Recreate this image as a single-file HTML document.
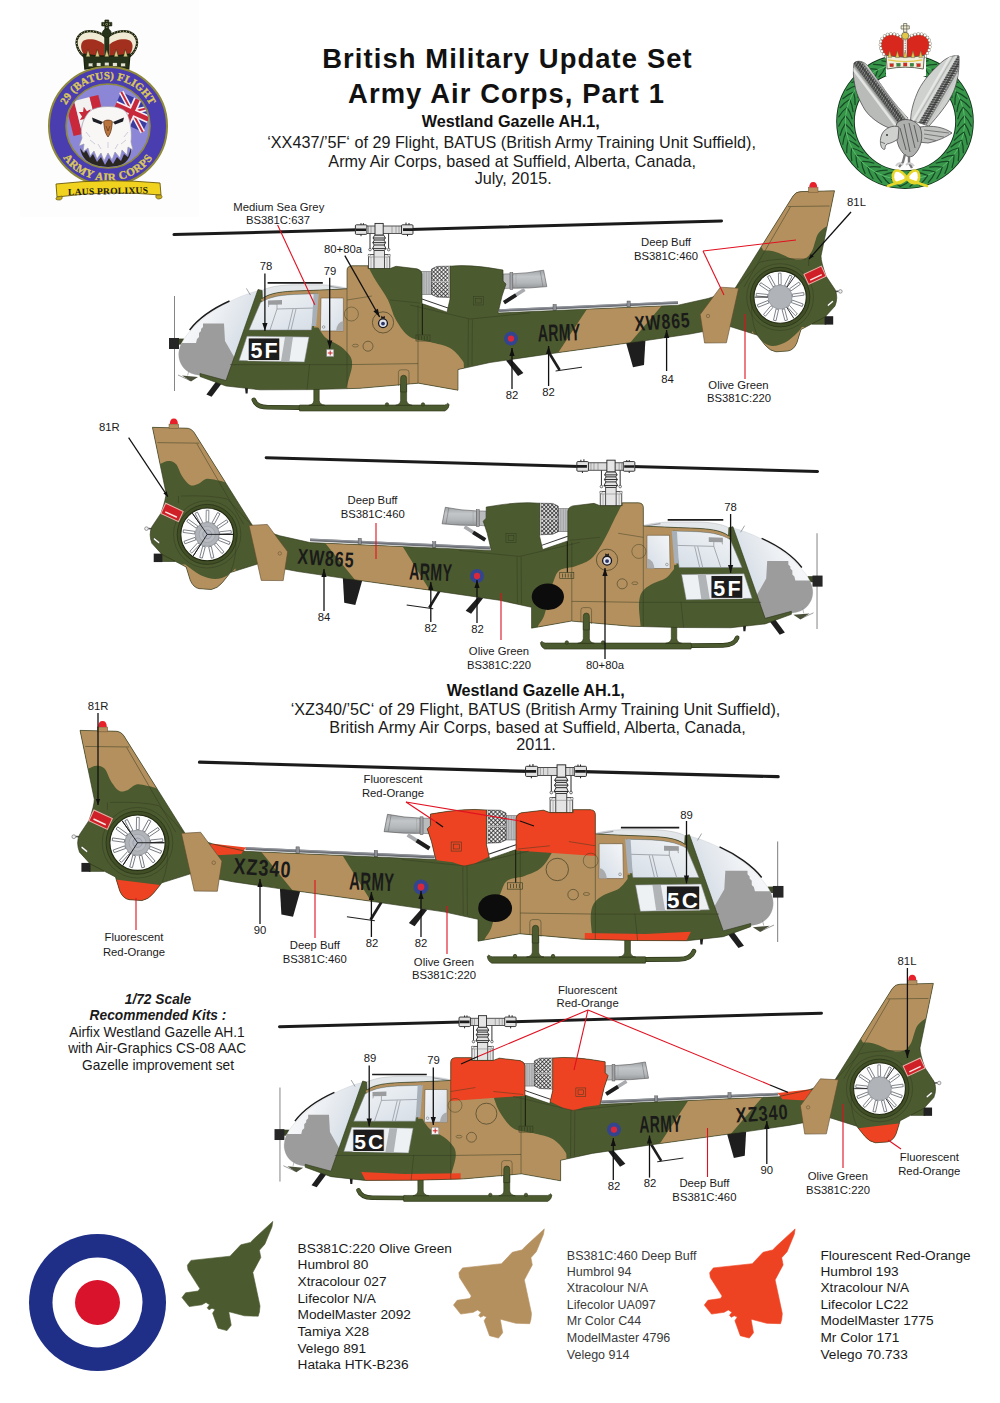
<!DOCTYPE html>
<html><head><meta charset="utf-8"><title>British Military Update Set</title>
<style>
html,body{margin:0;padding:0;background:#fff;}
body{width:1000px;height:1403px;overflow:hidden;font-family:"Liberation Sans",sans-serif;}
svg{display:block;}
text{font-family:"Liberation Sans",sans-serif;}
</style></head><body>
<svg width="1000" height="1403" viewBox="0 0 1000 1403">
<rect width="1000" height="1403" fill="#fff"/>
<defs>
<path id="bodyShape" d="M258,289.5 L262,290.4 L262.4,298.4 C270,292.8 282,291.4 300,290.8 C318,290.2 335,289.4 347,288.8 L347,270.5 Q347,266 352,265.8 L368,265.8 L368,268.6 L390,268.6 L396,266.3 L417,268.8 Q421.5,270 422,274 L422,303.6 L447,312.2 L450,299 L450,266.2 Q470,264 503,270 L503,281 L506,284 L502,296 L498,313 L678,305.2 L708,298.5 L734,290 L793,196 Q796,191.6 801,191.6 L834.5,190.8 L821,256 Q821,262 826,276 L835,289.5 Q838.5,297 835,306 L825,317 L801,329.5 L797,342.5 Q794,350 788,351 L776,351.8 Q770,351 765,345 L757,335 L730,326.5 L690,334 L646,340.5 L559,352.5 L490,362.5 L458,369.5 L458,390.2 L418.5,383.2 L360,388.3 L312,389.6 L260,389.8 L226,386 L200,376.5 L200,373.5 L226,380.5 Z"/>
<clipPath id="clipH1"><use href="#bodyShape"/></clipPath>
<clipPath id="clipH2"><use href="#bodyShape" transform="matrix(-1.007,0,0,1.007,992.75,235.2)"/></clipPath>
<clipPath id="clipH3"><use href="#bodyShape" transform="matrix(-1.057,0,0,1.057,962.1,528.7)"/></clipPath>
<clipPath id="clipH4"><use href="#bodyShape" transform="matrix(0.99,0,0,0.99,107.2,794.5)"/></clipPath>
<pattern id="mesh" width="2.8" height="2.8" patternUnits="userSpaceOnUse" patternTransform="rotate(45 0 0)"><rect width="2.8" height="2.8" fill="#ececec"/><path d="M0,0 H2.8 M0,0 V2.8" stroke="#222" stroke-width="1.4"/></pattern>
<linearGradient id="bubG" x1="0" y1="0" x2="1" y2="0.55"><stop offset="0" stop-color="#ffffff"/><stop offset="0.4" stop-color="#f1f3f6"/><stop offset="0.75" stop-color="#dde3ea"/><stop offset="1" stop-color="#cfd7e0"/></linearGradient>
<linearGradient id="exG" x1="0" y1="0" x2="0" y2="1"><stop offset="0" stop-color="#9fa2a5"/><stop offset="0.35" stop-color="#c3c6c9"/><stop offset="0.7" stop-color="#b4b7ba"/><stop offset="1" stop-color="#94979a"/></linearGradient>
<linearGradient id="winG" x1="0" y1="0" x2="1" y2="1"><stop offset="0" stop-color="#f4f6f8"/><stop offset="1" stop-color="#d5dde6"/></linearGradient>
<g id="heliUnder">
<line x1="174.5" y1="296" x2="174.5" y2="391" stroke="#858585" stroke-width="1"/>
<rect x="178" y="338.6" width="6" height="6" fill="#3c4526"/><rect x="169" y="338" width="10" height="11" fill="#262626"/>
<path d="M174,234.6 L358,229.8 M410,229.6 L721.5,220.9" stroke="#1b1b1b" stroke-width="3" stroke-linecap="round" fill="none"/>
<rect x="356" y="226" width="56" height="7.4" fill="#dcdcdc" stroke="#2e2e2e" stroke-width="0.8"/>
<rect x="355.4" y="224.8" width="11.5" height="9.6" rx="1" fill="#e2e2e2" stroke="#262626" stroke-width="0.9"/>
<rect x="401.5" y="224.8" width="11.5" height="9.6" rx="1" fill="#e2e2e2" stroke="#262626" stroke-width="0.9"/>
<path d="M356,229.7 H366 M403,229.6 H413" stroke="#1b1b1b" stroke-width="2.6"/>
<path d="M368.5,226 V233.4 M371,226 V233.4 M392,226 V233.4 M396,226 V233.4 M399,226 V233.4" stroke="#666" stroke-width="0.5"/>
<rect x="375" y="223.4" width="8.2" height="11.8" fill="#e6e6e6" stroke="#262626" stroke-width="0.9"/>
<path d="M361,223.2 v1.6 M363.4,223.2 v1.6 M361,234.4 v1.8 M406,222.6 v2.2 M409,223 v1.8 M407.5,234.4 v1.8" stroke="#222" stroke-width="1"/>
<path d="M370,233.4 V249.5 M388.6,233.4 V249.5" stroke="#333" stroke-width="1"/>
<circle cx="370" cy="249.6" r="1.3" fill="#eee" stroke="#2a2a2a" stroke-width="0.6"/><circle cx="388.6" cy="249.6" r="1.3" fill="#eee" stroke="#2a2a2a" stroke-width="0.6"/>
<path d="M374.6,235.2 H383.8 L385.4,238 L384,240 L385.6,242.6 L384.2,245 L386,248.6 L384,250.6 H374.4 L372.6,248.6 L374.2,245 L372.8,242.6 L374.4,240 L373,238 Z" fill="#e3e3e3" stroke="#262626" stroke-width="0.9"/>
<path d="M373,238 H385.4 M374.4,240 H384 M372.8,242.6 H385.6 M374.2,245 H384.2 M372.6,248.6 H386" stroke="#1e1e1e" stroke-width="0.9"/>
<rect x="368.4" y="254.4" width="21.4" height="14.4" fill="#e9e9e9" stroke="#2e2e2e" stroke-width="0.8"/>
<rect x="374" y="250.6" width="10.4" height="18.2" fill="#e4e4e4" stroke="#2e2e2e" stroke-width="0.8"/>
<path d="M368.4,257 H389.8 M371,257 V268.6 M387,257 V268.6" stroke="#777" stroke-width="0.5"/>
<circle cx="369.2" cy="255.4" r="1.2" fill="#eee" stroke="#555" stroke-width="0.4"/><circle cx="389" cy="255.4" r="1.2" fill="#eee" stroke="#555" stroke-width="0.4"/>
<path d="M503,274 L510.4,273.8 L510.4,288.2 L503,288.6 Z" fill="#b9bbbd" stroke="#555" stroke-width="0.5"/>
<path d="M512.6,273.8 Q528,273.4 543.6,270.2 L546.8,286.6 Q528,288.6 512.6,288.2 Z" fill="url(#exG)" stroke="#555" stroke-width="0.6"/>
<path d="M540.2,270.8 L543,287" stroke="#777" stroke-width="0.6"/><path d="M516,273.8 V288.2" stroke="#999" stroke-width="0.5"/>
<rect x="510" y="272.6" width="2.8" height="16.8" fill="#a3a5a8" stroke="#555" stroke-width="0.5"/>
<path d="M524.6,289.6 L504,302.6" stroke="#a9abae" stroke-width="3.6"/><path d="M516,295 L504,302.6" stroke="#1e1e1e" stroke-width="3.8"/>
<rect x="421.5" y="271.5" width="10" height="23" fill="#bcbec0" stroke="#555" stroke-width="0.5"/>
<path d="M424,271.5 V294.5 M426.4,271.5 V294.5 M429,271.5 V294.5" stroke="#888" stroke-width="0.5"/>
<path d="M431.5,269 L437,266.4 L450.5,266.2 L450.5,297.5 L437,297 L431.5,294.4 Z" fill="url(#mesh)" stroke="#333" stroke-width="0.6"/>
<path d="M431.5,281.6 H450.5" stroke="#bbb" stroke-width="1.1"/><path d="M449.4,266.4 V297.4" stroke="#ccc" stroke-width="1.6"/>
<path d="M422,299 L448,308" stroke="#333" stroke-width="1"/>
<path d="M499,310.6 L678,302.6" stroke="#6e7278" stroke-width="2.8"/>
<path d="M499,309.8 L678,301.8" stroke="#9a9ea4" stroke-width="0.8"/>
<rect x="553" y="304.4" width="3.2" height="6" fill="#8d9096" stroke="#444" stroke-width="0.4"/><rect x="627" y="301" width="3.2" height="6" fill="#8d9096" stroke="#444" stroke-width="0.4"/>
<path id="bub" d="M259,290.5 C240,295 214,308 199,322 C189,331.5 180.6,341 179,351 C177.6,359 181,366.5 187,371 C192,374.5 198,375.4 203,375.6 L226,383 Z" fill="url(#bubG)" stroke="#c9cdd2" stroke-width="0.4"/>
<clipPath id="bubC"><path d="M259,290.5 C240,295 214,308 199,322 C189,331.5 180.6,341 179,351 C177.6,359 181,366.5 187,371 C192,374.5 198,375.4 203,375.6 L226,383 Z"/></clipPath>
<g clip-path="url(#bubC)"><path d="M170,343 L196,343 L197,339 L199,337 L199,333 L201,331 L201,329 L203,327 L203,323.5 L224,323.5 L225,341 L233,355 L236,360 L236,392 L170,392 Z" fill="#9c9c9c"/></g>
<path d="M229.5,301 C214,308 198,319 189.6,330" stroke="#1c1c1c" stroke-width="1.4" fill="none"/>
<path d="M246.4,288.4 L250.4,295" stroke="#8a8f94" stroke-width="0.8"/>
<path d="M262,290.4 C270,286.6 280,285.2 292,284.8 L322,284.8 C332,285.2 340,286.4 347,288.2 L347,289 C335,289.6 318,290.4 300,291 C282,291.6 270,293 262.4,298.6 Z" fill="#e4e7ea" stroke="#a4a8ac" stroke-width="0.4"/>
<path d="M330,286.4 L346,289" stroke="#9a9ea2" stroke-width="1.2"/>
<path d="M267.6,282.8 H322.8" stroke="#1c1c1c" stroke-width="1.7"/>
<path d="M253.8,399.8 Q256.4,407.3 268,407.3 L301,407.6" stroke="#2b3418" stroke-width="4.6" stroke-linecap="round" fill="none"/>
<path d="M253.8,399.8 Q256.4,407.3 268,407.3 L301,407.6" stroke="#4c5a2f" stroke-width="3.4" stroke-linecap="round" fill="none"/>
<path d="M299.6,405 L444.6,405 Q447,404.6 447.6,403.2 L449.2,404.6 Q449,409 445,411 L299.6,411 Q298.4,408 299.6,405 Z" fill="#4c5a2f" stroke="#2b3418" stroke-width="0.6"/>
<path d="M313.8,366 L319.2,366 L319.2,400.6 Q319.8,404.6 324.8,405.3 L308.8,405.3 Q313.40000000000003,404.6 313.8,400.6 Z" fill="#4c5a2f" stroke="#2b3418" stroke-width="0.6"/>
<path d="M400.6,378.4 Q400.6,375.2 403.6,375.2 Q406.6,375.2 406.6,378.4 L406.6,400.6 Q407.2,404.6 412.2,405.3 L395.6,405.3 Q400.2,404.6 400.6,400.6 Z" fill="#4c5a2f" stroke="#2b3418" stroke-width="0.6"/>
<circle cx="387" cy="404.4" r="1.7" fill="#4c5a2f" stroke="#2b3418" stroke-width="0.6"/><circle cx="423" cy="404.4" r="1.7" fill="#4c5a2f" stroke="#2b3418" stroke-width="0.6"/>
<polygon points="506,360.4 511,359 523.4,373 518,376" fill="#1e1e1e"/>
<path d="M548.6,352 L559.6,370" stroke="#1e1e1e" stroke-width="2.6"/><path d="M555.6,371 L582,367.2" stroke="#1e1e1e" stroke-width="1"/>
<polygon points="626,342.4 645.4,340.4 644,365 633,367.2" fill="#1e1e1e"/>
<polygon points="206.4,394.6 211.6,396.8 222.4,382.4 216.8,380.6" fill="#1e1e1e"/>
<polygon points="245,387.6 248,387.6 247.6,393.4 245.6,393.4" fill="#1e1e1e"/>
<path d="M178,375 L190,380.6" stroke="#5c5f5c" stroke-width="0.6"/><path d="M182,375.6 L198,377 L191,381.6 Z" fill="#4a4f3a"/><path d="M189,370 L187.6,375.6" stroke="#8a8d8a" stroke-width="0.6"/>
<rect x="812" y="316.4" width="14" height="7.8" fill="#4c5a2f" stroke="#2b3418" stroke-width="0.5"/>
<rect x="824.6" y="316.2" width="8.6" height="8.4" fill="#222"/>
<path d="M834,291.6 L838.6,291.2" stroke="#555" stroke-width="1.6"/><circle cx="840.4" cy="291.4" r="1.8" fill="#eee" stroke="#666" stroke-width="0.6"/>
<use href="#bodyShape" fill="#4c5a2f"/>
</g>
<g id="heliOver">
<use href="#bodyShape" fill="none" stroke="#2b3418" stroke-width="0.6"/>
<rect x="808.4" y="187.6" width="9.6" height="4.6" fill="#b5905f" stroke="#6a5232" stroke-width="0.5"/><path d="M809.2,187.6 Q809.2,182 813.2,182 Q817.2,182 817.2,187.6 Z" fill="#e8202a"/>
<circle cx="780.1" cy="297.1" r="33.4" fill="none" stroke="#333c20" stroke-width="0.5"/>
<circle cx="780.1" cy="297.1" r="29.8" fill="#414f27" stroke="#2b3418" stroke-width="0.8"/>
<circle cx="780.1" cy="297.1" r="26.2" fill="#fdfdfd" stroke="#20270f" stroke-width="1.1"/>
<rect x="778.8000000000001" y="273.1" width="2.6" height="11.6" fill="#fff" stroke="#6c7178" stroke-width="0.8" transform="rotate(-84.0 780.1 297.1)"/>
<rect x="778.8000000000001" y="273.1" width="2.6" height="11.6" fill="#fff" stroke="#6c7178" stroke-width="0.8" transform="rotate(-56.3 780.1 297.1)"/>
<rect x="778.8000000000001" y="273.1" width="2.6" height="11.6" fill="#fff" stroke="#6c7178" stroke-width="0.8" transform="rotate(-28.6 780.1 297.1)"/>
<rect x="778.8000000000001" y="273.1" width="2.6" height="11.6" fill="#fff" stroke="#6c7178" stroke-width="0.8" transform="rotate(-0.9 780.1 297.1)"/>
<rect x="778.8000000000001" y="273.1" width="2.6" height="11.6" fill="#fff" stroke="#6c7178" stroke-width="0.8" transform="rotate(26.8 780.1 297.1)"/>
<rect x="778.8000000000001" y="273.1" width="2.6" height="11.6" fill="#fff" stroke="#6c7178" stroke-width="0.8" transform="rotate(54.5 780.1 297.1)"/>
<rect x="778.8000000000001" y="273.1" width="2.6" height="11.6" fill="#fff" stroke="#6c7178" stroke-width="0.8" transform="rotate(82.2 780.1 297.1)"/>
<rect x="778.8000000000001" y="273.1" width="2.6" height="11.6" fill="#fff" stroke="#6c7178" stroke-width="0.8" transform="rotate(109.8 780.1 297.1)"/>
<rect x="778.8000000000001" y="273.1" width="2.6" height="11.6" fill="#fff" stroke="#6c7178" stroke-width="0.8" transform="rotate(137.5 780.1 297.1)"/>
<rect x="778.8000000000001" y="273.1" width="2.6" height="11.6" fill="#fff" stroke="#6c7178" stroke-width="0.8" transform="rotate(165.2 780.1 297.1)"/>
<rect x="778.8000000000001" y="273.1" width="2.6" height="11.6" fill="#fff" stroke="#6c7178" stroke-width="0.8" transform="rotate(192.9 780.1 297.1)"/>
<rect x="778.8000000000001" y="273.1" width="2.6" height="11.6" fill="#fff" stroke="#6c7178" stroke-width="0.8" transform="rotate(220.6 780.1 297.1)"/>
<rect x="778.8000000000001" y="273.1" width="2.6" height="11.6" fill="#fff" stroke="#6c7178" stroke-width="0.8" transform="rotate(248.3 780.1 297.1)"/>
<circle cx="780.1" cy="297.1" r="12" fill="#b0b3b8" stroke="#80858c" stroke-width="0.6"/>
<line x1="767.9" y1="297.1" x2="754.5" y2="297.1" stroke="#1a1a1a" stroke-width="0.9"/>
<line x1="787.1" y1="287.1" x2="794.8" y2="276.1" stroke="#1a1a1a" stroke-width="0.9"/>
<line x1="786.7" y1="307.3" x2="794.0" y2="318.6" stroke="#1a1a1a" stroke-width="0.9"/>
<g transform="translate(815,275.3) rotate(-25)"><rect x="-9.6" y="-5.6" width="19.2" height="11.2" fill="#cf2027" stroke="#e9b0a8" stroke-width="1"/><rect x="-6.4" y="1.6" width="12.8" height="1.4" fill="#f7e6e2"/></g><rect x="-3.8" y="-1" width="7.6" height="2" rx="1" fill="#fff" stroke="#2b3418" stroke-width="0.5" transform="translate(830.4,303.4) rotate(-40)"/>
<path d="M788,206.5 L829.6,206 M790.4,207 L744,287 M734,290 L760,262 Q776,258 806,259 M808.6,259 L808.6,266 M757,335 Q750,318 752,300" stroke="#333c20" stroke-width="0.5" fill="none"/>
<path id="stab" d="M720.4,287.2 L738.6,288.2 L726.4,342.8 L704.6,343 L700.2,314.4 Z" fill="#b5905f" stroke="#5c4a2c" stroke-width="0.6"/>
<circle cx="708" cy="316" r="1.7" fill="none" stroke="#5c4a2c" stroke-width="0.5"/>
<path d="M260.6,302.4 C270,296.4 282,294.8 300,294.2 L317,293.8 L311.4,330 L249,330 Z" fill="url(#winG)" stroke="#7d8288" stroke-width="0.5"/>
<path d="M270,330 L277,309 L315,308 M288,330 L293,309 M291,330 L296,309 M277,309 L277,304 L269,303.4 L268.4,307" stroke="#8a8f96" stroke-width="0.7" fill="none"/>
<path d="M268,300.4 L282,300 L282,304.6 L268,304.8 Z" fill="#9a9c9e"/>
<path d="M247,336.2 L309,337 L304.4,362 L239,360.6 Z" fill="#eef1f4" stroke="#7d8288" stroke-width="0.5"/>
<path d="M285,337 L293,337 L289.4,361.4 L281,361.2 Z" fill="#b1b4b7"/>
<rect x="248.2" y="338" width="31.6" height="22.6" fill="#1c1c1c" stroke="#f2f2f2" stroke-width="0.9"/>
<path d="M321,298 L343.4,298 L343.4,331 L320.4,331 Z" fill="url(#winG)" stroke="#6e5a3a" stroke-width="0.6"/>
<path d="M336,331 Q337,322 343.4,321 L343.4,331 Z" fill="#a9abad"/><circle cx="323.6" cy="327" r="1.3" fill="none" stroke="#666" stroke-width="0.5"/>
<path d="M313.6,294 L318.8,293.8 L316.2,326 L311.8,326 Z" fill="#a7b0b8"/>
<path d="M400.6,392 L400.6,378.4 Q400.6,375.2 403.6,375.2 Q406.6,375.2 406.6,378.4 L406.6,392 Z" fill="#4c5a2f" stroke="#2b3418" stroke-width="0.6"/>
<path d="M347,289 V388.6 M410,305 L470,319 L530,313 M468.4,319 L468,366 M472.4,319.4 L472,365 M347,364.6 L418,363.6 M418,305 V383 M230,364.6 H347 M309.6,364 L307,389.6 " stroke="#333c20" stroke-width="0.5" fill="none"/><path d="M422.4,304 V335" stroke="#1e2410" stroke-width="1.2"/>
<rect x="416" y="335" width="14" height="6" fill="none" stroke="#333c20" stroke-width="0.6"/><path d="M418.8,336 V340 M421.6,336 V340 M424.4,336 V340 M427.2,336 V340" stroke="#333c20" stroke-width="0.7"/>
<rect x="473.4" y="296.4" width="10" height="8.6" fill="none" stroke="#333c20" stroke-width="0.5"/><rect x="475.6" y="298.4" width="5.6" height="4.6" fill="none" stroke="#333c20" stroke-width="0.5"/>
<circle cx="351.4" cy="314" r="7" fill="none" stroke="#333c20" stroke-width="0.45"/><circle cx="383" cy="322.4" r="10.6" fill="none" stroke="#4f4a2c" stroke-width="0.8"/><circle cx="368" cy="346.2" r="5" fill="none" stroke="#4f4a2c" stroke-width="0.7"/><ellipse cx="355.4" cy="345.6" rx="3" ry="1.4" fill="none" stroke="#333c20" stroke-width="0.45"/>
<path d="M347,300 L372,296 M390,300 L420,303 M398.4,386 V372.4 Q398.4,369.8 401,369.8 H406.4 Q409,369.8 409,372.4 V384" stroke="#333c20" stroke-width="0.45" fill="none"/>
</g>
</defs>
<rect x="20" y="0" width="179" height="217" fill="#fdfdfd"/><path d="M86.8,58.2 C76.8,52.3 73.0,40.6 80.5,34.2 C86.8,28.8 99.3,30.8 106.8,37.6 C114.3,30.8 126.8,28.8 133.1,34.2 C140.6,40.6 136.8,52.3 126.8,58.2 Z" fill="#f0ead4" stroke="#1c2410" stroke-width="2.2"/><path d="M85.5,56.3 C79.9,50.4 79.9,43.5 83.7,40.6 C89.3,37.6 99.3,39.6 104.3,44.5 L104.3,56.3 Z" fill="#a3301f"/><path d="M128.1,56.3 C133.7,50.4 133.7,43.5 129.9,40.6 C124.3,37.6 114.3,39.6 109.3,44.5 L109.3,56.3 Z" fill="#a3301f"/><path d="M86.8,58.2 C76.8,52.3 73.0,40.6 80.5,34.2 C86.8,28.8 99.3,30.8 106.8,37.6 C114.3,30.8 126.8,28.8 133.1,34.2 C140.6,40.6 136.8,52.3 126.8,58.2 Z" fill="none" stroke="#d9d2a0" stroke-width="0.9" stroke-dasharray="1.1 1.9"/><rect x="104.6" y="34.7" width="4.4" height="20.6" fill="#27321a" stroke="#1c2410" stroke-width="0.5"/><circle cx="106.8" cy="33.2" r="4.4" fill="#27321a" stroke="#1c2410" stroke-width="0.7"/><path d="M104.9,29.3 V20.0 H108.7 V29.3 Z M101.8,22.4 H111.8 V25.9 H101.8 Z" fill="#27321a" stroke="#1c2410" stroke-width="0.7"/><path d="M106.8,21.0 V28.3 M103.0,24.2 H110.5" stroke="#d9d2a0" stroke-width="0.8" stroke-dasharray="0.8 1.2"/><path d="M83.7,54.3 Q106.8,58.2 129.9,54.3 L128.7,69.0 Q106.8,65.1 84.9,69.0 Z" fill="#27321a" stroke="#1c2410" stroke-width="1.4"/><path d="M85.9,56.8 L88.0,49.4 L90.2,56.8 Z" fill="#d6cc86" stroke="#1c2410" stroke-width="0.4"/><path d="M95.2,56.8 L97.4,49.4 L99.6,56.8 Z" fill="#d6cc86" stroke="#1c2410" stroke-width="0.4"/><path d="M104.6,56.8 L106.8,49.4 L109.0,56.8 Z" fill="#d6cc86" stroke="#1c2410" stroke-width="0.4"/><path d="M114.0,56.8 L116.2,49.4 L118.4,56.8 Z" fill="#d6cc86" stroke="#1c2410" stroke-width="0.4"/><path d="M123.4,56.8 L125.5,49.4 L127.7,56.8 Z" fill="#d6cc86" stroke="#1c2410" stroke-width="0.4"/><rect x="88.4" y="63.1" width="4.4" height="3.4" fill="#e4e2d2" stroke="#1c2410" stroke-width="0.3"/><rect x="96.5" y="62.8" width="4.4" height="3.4" fill="#e4e2d2" stroke="#1c2410" stroke-width="0.3"/><rect x="104.6" y="62.4" width="4.4" height="3.4" fill="#e4e2d2" stroke="#1c2410" stroke-width="0.3"/><rect x="112.7" y="62.8" width="4.4" height="3.4" fill="#e4e2d2" stroke="#1c2410" stroke-width="0.3"/><rect x="120.9" y="63.1" width="4.4" height="3.4" fill="#e4e2d2" stroke="#1c2410" stroke-width="0.3"/><circle cx="108" cy="126" r="59" fill="#4a3db0" stroke="#8f8a3a" stroke-width="2"/><circle cx="108" cy="126" r="42" fill="#8b87d6" stroke="#8f8a3a" stroke-width="1.6"/><clipPath id="lbin"><circle cx="108" cy="126" r="41"/></clipPath><g clip-path="url(#lbin)"><g transform="translate(84,116) rotate(-14)"><rect x="-15" y="-17" width="9" height="34" fill="#c8283a"/><rect x="-6" y="-17" width="16" height="34" fill="#f4f1f1"/><rect x="10" y="-17" width="9" height="34" fill="#c8283a"/><path d="M2,-9 L4,-4 L8,-5 L6,0 L9,3 L3,3 L2,8 L1,3 L-5,3 L-2,0 L-4,-5 L0,-4 Z" fill="#c8283a"/></g><g transform="translate(132,112) rotate(24)"><rect x="-18" y="-14" width="36" height="28" fill="#3b3aa0"/><path d="M-18,-14 L18,14 M18,-14 L-18,14" stroke="#f1eef4" stroke-width="5"/><path d="M-18,-14 L18,14 M18,-14 L-18,14" stroke="#c8283a" stroke-width="2"/><path d="M0,-14 V14 M-18,0 H18" stroke="#f1eef4" stroke-width="8"/><path d="M0,-14 V14 M-18,0 H18" stroke="#c8283a" stroke-width="4.5"/></g><path d="M80,148 L84,153 L86,150 L90,158 L93,154 L97,162 L101,157 L105,165 L109,158 L113,164 L117,157 L121,161 L124,154 L128,157 L131,148 C132,158 124,168 108,168 C92,168 82,160 80,148 Z" fill="#2a2622"/><path d="M89,112 C96,104.6 120,104.6 126,112 C131,120 132,134 131,142 L133,150 L128,147 L127,155 L122,150 L120,158 L115,152 L112,160 L108,153 L104,161 L101,153 L97,159 L94,151 L90,156 L88,148 L83,152 L84,144 L79,146 L82,138 C80,130 82,120 89,112 Z" fill="#f8f7f5" stroke="#9a9ab0" stroke-width="0.7"/><path d="M92,117.6 L103,122 L101,124.6 L93,121.6 Z M124,117.6 L113,122 L115,124.6 L123,121.6 Z" fill="#1e1e26"/><path d="M103.6,121.6 C105.6,119.6 110.4,119.6 112.4,121.6 L111.6,128 C111,132 109.6,135 108,137 C106.4,135 105,132 104.4,128 Z" fill="#b8743c" stroke="#5a2d12" stroke-width="0.7"/><path d="M106,126 L108,131 L110,126" stroke="#5a2d12" stroke-width="0.6" fill="none"/><path d="M86,132 l4,5 M90,140 l5,4 M128,132 l-4,5 M126,140 l-5,4 M98,144 l3,5 M118,144 l-3,5 M108,142 v6" stroke="#c4c4d4" stroke-width="0.8" fill="none"/></g><path id="arcTop" d="M61.2,126 A46.8,46.8 0 0 1 154.8,126" fill="none"/><path id="arcBot" d="M53,126 A55,55 0 0 0 163,126" fill="none"/><text font-family="Liberation Serif" font-weight="bold" font-size="10.8" fill="#dcc85a" stroke="#dcc85a" stroke-width="0.35" letter-spacing="0.2" style="font-family:'Liberation Serif',serif"><textPath href="#arcTop" startOffset="50%" text-anchor="middle">29 (BATUS) FLIGHT</textPath></text><text font-family="Liberation Serif" font-weight="bold" font-size="11.2" fill="#dcc85a" stroke="#dcc85a" stroke-width="0.35" letter-spacing="0.5" style="font-family:'Liberation Serif',serif"><textPath href="#arcBot" startOffset="50%" text-anchor="middle">ARMY AIR CORPS</textPath></text><path d="M56,184 Q108,178 160,183 L161,195 Q108,190 57,197 Z" fill="#f1d21f" stroke="#6a5a10" stroke-width="0.9"/><path d="M57,197 q-3,3 2,3 q4,0 3,-4 Z M161,195 q3,3 -2,4 q-4,0 -3,-4 Z" fill="#c9ad18" stroke="#6a5a10" stroke-width="0.7"/><text x="108" y="194.3" font-size="9.6" font-weight="bold" text-anchor="middle" fill="#1a1a10" letter-spacing="0.2" transform="rotate(-1.5 108 190)" style="font-family:'Liberation Serif',serif">LAUS PROLIXUS</text><ellipse cx="905" cy="121.6" rx="59.5" ry="58" fill="none" stroke="#12301a" stroke-width="18.6"/><ellipse cx="905" cy="121.6" rx="59.5" ry="58" fill="none" stroke="#37964a" stroke-width="16.8"/><g transform="translate(964.5,121.6) rotate(270.0)"><path d="M-5,-7 Q2,-4 6,0 Q2,4 -5,7" fill="none" stroke="#174a25" stroke-width="1.2"/><path d="M-5,0 H5" stroke="#5fc06f" stroke-width="0.8"/></g><g transform="translate(963.9,129.9) rotate(278.4)"><path d="M-5,-7 Q2,-4 6,0 Q2,4 -5,7" fill="none" stroke="#174a25" stroke-width="1.2"/><path d="M-5,0 H5" stroke="#5fc06f" stroke-width="0.8"/></g><g transform="translate(962.1,137.9) rotate(286.8)"><path d="M-5,-7 Q2,-4 6,0 Q2,4 -5,7" fill="none" stroke="#174a25" stroke-width="1.2"/><path d="M-5,0 H5" stroke="#5fc06f" stroke-width="0.8"/></g><g transform="translate(959.1,145.7) rotate(295.1)"><path d="M-5,-7 Q2,-4 6,0 Q2,4 -5,7" fill="none" stroke="#174a25" stroke-width="1.2"/><path d="M-5,0 H5" stroke="#5fc06f" stroke-width="0.8"/></g><g transform="translate(955.1,153.0) rotate(303.4)"><path d="M-5,-7 Q2,-4 6,0 Q2,4 -5,7" fill="none" stroke="#174a25" stroke-width="1.2"/><path d="M-5,0 H5" stroke="#5fc06f" stroke-width="0.8"/></g><g transform="translate(950.0,159.6) rotate(311.6)"><path d="M-5,-7 Q2,-4 6,0 Q2,4 -5,7" fill="none" stroke="#174a25" stroke-width="1.2"/><path d="M-5,0 H5" stroke="#5fc06f" stroke-width="0.8"/></g><g transform="translate(944.0,165.4) rotate(319.8)"><path d="M-5,-7 Q2,-4 6,0 Q2,4 -5,7" fill="none" stroke="#174a25" stroke-width="1.2"/><path d="M-5,0 H5" stroke="#5fc06f" stroke-width="0.8"/></g><g transform="translate(937.2,170.4) rotate(327.9)"><path d="M-5,-7 Q2,-4 6,0 Q2,4 -5,7" fill="none" stroke="#174a25" stroke-width="1.2"/><path d="M-5,0 H5" stroke="#5fc06f" stroke-width="0.8"/></g><g transform="translate(929.7,174.4) rotate(336.0)"><path d="M-5,-7 Q2,-4 6,0 Q2,4 -5,7" fill="none" stroke="#174a25" stroke-width="1.2"/><path d="M-5,0 H5" stroke="#5fc06f" stroke-width="0.8"/></g><g transform="translate(921.8,177.3) rotate(344.0)"><path d="M-5,-7 Q2,-4 6,0 Q2,4 -5,7" fill="none" stroke="#174a25" stroke-width="1.2"/><path d="M-5,0 H5" stroke="#5fc06f" stroke-width="0.8"/></g><g transform="translate(913.5,179.0) rotate(352.0)"><path d="M-5,-7 Q2,-4 6,0 Q2,4 -5,7" fill="none" stroke="#174a25" stroke-width="1.2"/><path d="M-5,0 H5" stroke="#5fc06f" stroke-width="0.8"/></g><g transform="translate(905.0,179.6) rotate(360.0)"><path d="M-5,-7 Q2,-4 6,0 Q2,4 -5,7" fill="none" stroke="#174a25" stroke-width="1.2"/><path d="M-5,0 H5" stroke="#5fc06f" stroke-width="0.8"/></g><g transform="translate(896.5,179.0) rotate(-172.0)"><path d="M-5,-7 Q2,-4 6,0 Q2,4 -5,7" fill="none" stroke="#174a25" stroke-width="1.2"/><path d="M-5,0 H5" stroke="#5fc06f" stroke-width="0.8"/></g><g transform="translate(888.2,177.3) rotate(-164.0)"><path d="M-5,-7 Q2,-4 6,0 Q2,4 -5,7" fill="none" stroke="#174a25" stroke-width="1.2"/><path d="M-5,0 H5" stroke="#5fc06f" stroke-width="0.8"/></g><g transform="translate(880.3,174.4) rotate(-156.0)"><path d="M-5,-7 Q2,-4 6,0 Q2,4 -5,7" fill="none" stroke="#174a25" stroke-width="1.2"/><path d="M-5,0 H5" stroke="#5fc06f" stroke-width="0.8"/></g><g transform="translate(872.8,170.4) rotate(-147.9)"><path d="M-5,-7 Q2,-4 6,0 Q2,4 -5,7" fill="none" stroke="#174a25" stroke-width="1.2"/><path d="M-5,0 H5" stroke="#5fc06f" stroke-width="0.8"/></g><g transform="translate(866.0,165.4) rotate(-139.8)"><path d="M-5,-7 Q2,-4 6,0 Q2,4 -5,7" fill="none" stroke="#174a25" stroke-width="1.2"/><path d="M-5,0 H5" stroke="#5fc06f" stroke-width="0.8"/></g><g transform="translate(860.0,159.6) rotate(-131.6)"><path d="M-5,-7 Q2,-4 6,0 Q2,4 -5,7" fill="none" stroke="#174a25" stroke-width="1.2"/><path d="M-5,0 H5" stroke="#5fc06f" stroke-width="0.8"/></g><g transform="translate(854.9,153.0) rotate(-123.4)"><path d="M-5,-7 Q2,-4 6,0 Q2,4 -5,7" fill="none" stroke="#174a25" stroke-width="1.2"/><path d="M-5,0 H5" stroke="#5fc06f" stroke-width="0.8"/></g><g transform="translate(850.9,145.7) rotate(-115.1)"><path d="M-5,-7 Q2,-4 6,0 Q2,4 -5,7" fill="none" stroke="#174a25" stroke-width="1.2"/><path d="M-5,0 H5" stroke="#5fc06f" stroke-width="0.8"/></g><g transform="translate(847.9,137.9) rotate(-106.8)"><path d="M-5,-7 Q2,-4 6,0 Q2,4 -5,7" fill="none" stroke="#174a25" stroke-width="1.2"/><path d="M-5,0 H5" stroke="#5fc06f" stroke-width="0.8"/></g><g transform="translate(846.1,129.9) rotate(-98.4)"><path d="M-5,-7 Q2,-4 6,0 Q2,4 -5,7" fill="none" stroke="#174a25" stroke-width="1.2"/><path d="M-5,0 H5" stroke="#5fc06f" stroke-width="0.8"/></g><g transform="translate(845.5,121.6) rotate(-90.0)"><path d="M-5,-7 Q2,-4 6,0 Q2,4 -5,7" fill="none" stroke="#174a25" stroke-width="1.2"/><path d="M-5,0 H5" stroke="#5fc06f" stroke-width="0.8"/></g><g transform="translate(846.1,113.3) rotate(-81.6)"><path d="M-5,-7 Q2,-4 6,0 Q2,4 -5,7" fill="none" stroke="#174a25" stroke-width="1.2"/><path d="M-5,0 H5" stroke="#5fc06f" stroke-width="0.8"/></g><g transform="translate(847.9,105.3) rotate(-73.2)"><path d="M-5,-7 Q2,-4 6,0 Q2,4 -5,7" fill="none" stroke="#174a25" stroke-width="1.2"/><path d="M-5,0 H5" stroke="#5fc06f" stroke-width="0.8"/></g><g transform="translate(850.9,97.5) rotate(-64.9)"><path d="M-5,-7 Q2,-4 6,0 Q2,4 -5,7" fill="none" stroke="#174a25" stroke-width="1.2"/><path d="M-5,0 H5" stroke="#5fc06f" stroke-width="0.8"/></g><g transform="translate(854.9,90.2) rotate(-56.6)"><path d="M-5,-7 Q2,-4 6,0 Q2,4 -5,7" fill="none" stroke="#174a25" stroke-width="1.2"/><path d="M-5,0 H5" stroke="#5fc06f" stroke-width="0.8"/></g><g transform="translate(860.0,83.6) rotate(-48.4)"><path d="M-5,-7 Q2,-4 6,0 Q2,4 -5,7" fill="none" stroke="#174a25" stroke-width="1.2"/><path d="M-5,0 H5" stroke="#5fc06f" stroke-width="0.8"/></g><g transform="translate(866.0,77.8) rotate(-40.2)"><path d="M-5,-7 Q2,-4 6,0 Q2,4 -5,7" fill="none" stroke="#174a25" stroke-width="1.2"/><path d="M-5,0 H5" stroke="#5fc06f" stroke-width="0.8"/></g><g transform="translate(872.8,72.8) rotate(-32.1)"><path d="M-5,-7 Q2,-4 6,0 Q2,4 -5,7" fill="none" stroke="#174a25" stroke-width="1.2"/><path d="M-5,0 H5" stroke="#5fc06f" stroke-width="0.8"/></g><g transform="translate(880.3,68.8) rotate(-24.0)"><path d="M-5,-7 Q2,-4 6,0 Q2,4 -5,7" fill="none" stroke="#174a25" stroke-width="1.2"/><path d="M-5,0 H5" stroke="#5fc06f" stroke-width="0.8"/></g><g transform="translate(888.2,65.9) rotate(-16.0)"><path d="M-5,-7 Q2,-4 6,0 Q2,4 -5,7" fill="none" stroke="#174a25" stroke-width="1.2"/><path d="M-5,0 H5" stroke="#5fc06f" stroke-width="0.8"/></g><g transform="translate(896.5,64.2) rotate(-8.0)"><path d="M-5,-7 Q2,-4 6,0 Q2,4 -5,7" fill="none" stroke="#174a25" stroke-width="1.2"/><path d="M-5,0 H5" stroke="#5fc06f" stroke-width="0.8"/></g><g transform="translate(905.0,63.6) rotate(-0.0)"><path d="M-5,-7 Q2,-4 6,0 Q2,4 -5,7" fill="none" stroke="#174a25" stroke-width="1.2"/><path d="M-5,0 H5" stroke="#5fc06f" stroke-width="0.8"/></g><g transform="translate(913.5,64.2) rotate(188.0)"><path d="M-5,-7 Q2,-4 6,0 Q2,4 -5,7" fill="none" stroke="#174a25" stroke-width="1.2"/><path d="M-5,0 H5" stroke="#5fc06f" stroke-width="0.8"/></g><g transform="translate(921.8,65.9) rotate(196.0)"><path d="M-5,-7 Q2,-4 6,0 Q2,4 -5,7" fill="none" stroke="#174a25" stroke-width="1.2"/><path d="M-5,0 H5" stroke="#5fc06f" stroke-width="0.8"/></g><g transform="translate(929.7,68.8) rotate(204.0)"><path d="M-5,-7 Q2,-4 6,0 Q2,4 -5,7" fill="none" stroke="#174a25" stroke-width="1.2"/><path d="M-5,0 H5" stroke="#5fc06f" stroke-width="0.8"/></g><g transform="translate(937.2,72.8) rotate(212.1)"><path d="M-5,-7 Q2,-4 6,0 Q2,4 -5,7" fill="none" stroke="#174a25" stroke-width="1.2"/><path d="M-5,0 H5" stroke="#5fc06f" stroke-width="0.8"/></g><g transform="translate(944.0,77.8) rotate(220.2)"><path d="M-5,-7 Q2,-4 6,0 Q2,4 -5,7" fill="none" stroke="#174a25" stroke-width="1.2"/><path d="M-5,0 H5" stroke="#5fc06f" stroke-width="0.8"/></g><g transform="translate(950.0,83.6) rotate(228.4)"><path d="M-5,-7 Q2,-4 6,0 Q2,4 -5,7" fill="none" stroke="#174a25" stroke-width="1.2"/><path d="M-5,0 H5" stroke="#5fc06f" stroke-width="0.8"/></g><g transform="translate(955.1,90.2) rotate(236.6)"><path d="M-5,-7 Q2,-4 6,0 Q2,4 -5,7" fill="none" stroke="#174a25" stroke-width="1.2"/><path d="M-5,0 H5" stroke="#5fc06f" stroke-width="0.8"/></g><g transform="translate(959.1,97.5) rotate(244.9)"><path d="M-5,-7 Q2,-4 6,0 Q2,4 -5,7" fill="none" stroke="#174a25" stroke-width="1.2"/><path d="M-5,0 H5" stroke="#5fc06f" stroke-width="0.8"/></g><g transform="translate(962.1,105.3) rotate(253.2)"><path d="M-5,-7 Q2,-4 6,0 Q2,4 -5,7" fill="none" stroke="#174a25" stroke-width="1.2"/><path d="M-5,0 H5" stroke="#5fc06f" stroke-width="0.8"/></g><g transform="translate(963.9,113.3) rotate(261.6)"><path d="M-5,-7 Q2,-4 6,0 Q2,4 -5,7" fill="none" stroke="#174a25" stroke-width="1.2"/><path d="M-5,0 H5" stroke="#5fc06f" stroke-width="0.8"/></g><path d="M886,50 L926,50 L926,76 L886,76 Z" fill="#fff"/><path d="M888.7,59.0 C880.4,53.5 877.3,42.6 883.5,36.7 C888.7,31.7 899.0,33.5 905.2,39.9 C911.4,33.5 921.7,31.7 926.9,36.7 C933.1,42.6 930.0,53.5 921.7,59.0 Z" fill="#d8281e" stroke="#5a5a4a" stroke-width="0.9"/><path d="M887.6,57.2 C883.0,51.7 883.0,45.3 886.1,42.6 C890.7,39.9 899.0,41.7 903.1,46.2 L903.1,57.2 Z" fill="#d8281e"/><path d="M922.8,57.2 C927.4,51.7 927.4,45.3 924.3,42.6 C919.7,39.9 911.4,41.7 907.3,46.2 L907.3,57.2 Z" fill="#d8281e"/><path d="M888.7,59.0 C880.4,53.5 877.3,42.6 883.5,36.7 C888.7,31.7 899.0,33.5 905.2,39.9 C911.4,33.5 921.7,31.7 926.9,36.7 C933.1,42.6 930.0,53.5 921.7,59.0 Z" fill="none" stroke="#8a8a7a" stroke-width="3.2" stroke-dasharray="0.1 3.3" stroke-linecap="round"/><path d="M888.7,59.0 C880.4,53.5 877.3,42.6 883.5,36.7 C888.7,31.7 899.0,33.5 905.2,39.9 C911.4,33.5 921.7,31.7 926.9,36.7 C933.1,42.6 930.0,53.5 921.7,59.0 Z" fill="none" stroke="#ffffff" stroke-width="2.3" stroke-dasharray="0.1 3.3" stroke-linecap="round"/><rect x="903.4" y="37.1" width="3.6" height="19.1" fill="#fff" stroke="#5a5a4a" stroke-width="0.5"/><path d="M905.2,38.5 V55.3" stroke="#9a9a8a" stroke-width="1.6" stroke-dasharray="0.1 2.3" stroke-linecap="round"/><circle cx="905.2" cy="35.8" r="3.6" fill="#e2c84a" stroke="#5a5a4a" stroke-width="0.7"/><path d="M903.6,32.1 V23.5 H906.8 V32.1 Z M901.1,25.8 H909.3 V29.0 H901.1 Z" fill="#f4f0d8" stroke="#5a5a4a" stroke-width="0.7"/><path d="M886.1,55.3 Q905.2,59.0 924.3,55.3 L923.3,69.0 Q905.2,65.4 887.1,69.0 Z" fill="#f2eedc" stroke="#5a5a4a" stroke-width="0.9"/><path d="M887.9,57.6 L889.7,50.8 L891.5,57.6 Z" fill="#e2c84a" stroke="#5a5a4a" stroke-width="0.4"/><path d="M895.6,57.6 L897.4,50.8 L899.3,57.6 Z" fill="#e2c84a" stroke="#5a5a4a" stroke-width="0.4"/><path d="M903.4,57.6 L905.2,50.8 L907.0,57.6 Z" fill="#e2c84a" stroke="#5a5a4a" stroke-width="0.4"/><path d="M911.1,57.6 L913.0,50.8 L914.8,57.6 Z" fill="#e2c84a" stroke="#5a5a4a" stroke-width="0.4"/><path d="M918.9,57.6 L920.7,50.8 L922.5,57.6 Z" fill="#e2c84a" stroke="#5a5a4a" stroke-width="0.4"/><rect x="889.9" y="63.6" width="3.6" height="3.2" fill="#d8281e" stroke="#5a5a4a" stroke-width="0.3"/><rect x="896.7" y="63.2" width="3.6" height="3.2" fill="#2f8a3c" stroke="#5a5a4a" stroke-width="0.3"/><rect x="903.4" y="62.9" width="3.6" height="3.2" fill="#d8281e" stroke="#5a5a4a" stroke-width="0.3"/><rect x="910.1" y="63.2" width="3.6" height="3.2" fill="#2f8a3c" stroke="#5a5a4a" stroke-width="0.3"/><rect x="916.8" y="63.6" width="3.6" height="3.2" fill="#d8281e" stroke="#5a5a4a" stroke-width="0.3"/><path d="M888.1,59.9 Q905.2,63.1 922.3,59.9" fill="none" stroke="#e2c84a" stroke-width="1.2"/><clipPath id="lwc"><path d="M854,63 C857,60 863,61 867,65 L882,86 C890,98 900,110 908,118 L899,131 C885,128 872,120 865,110 C859,100 856,92 855,86 C853,78 853,70 854,63 Z"/></clipPath><clipPath id="rwc"><path d="M959,56 C955,54.6 948,57 943,61 C933,69 923,81 918.6,90 C914,100 911,110 910.6,120 L929,126 C938,116 947,105 952,95 C957,85 959.6,72 959,56 Z"/></clipPath><path d="M854,63 C857,60 863,61 867,65 L882,86 C890,98 900,110 908,118 L899,131 C885,128 872,120 865,110 C859,100 856,92 855,86 C853,78 853,70 854,63 Z" fill="#b9bbb9" stroke="#3c3c3c" stroke-width="0.7"/><g clip-path="url(#lwc)"><path d="M900.8,132.4 L848.8,63.4" stroke="#e3e5e3" stroke-width="2.4"/><path d="M902.9,130.8 L850.9,61.9" stroke="#8e908e" stroke-width="0.7"/><path d="M904.8,129.4 L852.8,60.4" stroke="#6a6c6a" stroke-width="3.4"/><path d="M907.5,127.3 L855.5,58.4" stroke="#575957" stroke-width="2.6"/><path d="M909.6,125.8 L857.6,56.8" stroke="#7c7e7c" stroke-width="1.6"/><path d="M911.5,124.3 L859.5,55.4" stroke="#d0d2d0" stroke-width="1.6"/><path d="M913.1,123.1 L861.1,54.1" stroke="#8a8c8a" stroke-width="0.6"/><path d="M900.4,125.2 L904.2,118.6 M898.8,123.1 L902.6,116.5 M897.2,121.0 L901.0,114.4 M895.6,118.9 L899.4,112.3 M894.1,116.8 L897.8,110.2 M892.5,114.7 L896.3,108.1 M890.9,112.6 L894.7,106.0 M889.3,110.5 L893.1,103.9 M887.7,108.4 L891.5,101.8 M886.1,106.3 L889.9,99.7 M884.5,104.2 L888.3,97.6 M883.0,102.1 L886.7,95.5 M881.4,100.0 L885.2,93.4 M879.8,97.9 L883.6,91.2 M878.2,95.8 L882.0,89.1 M876.6,93.7 L880.4,87.0 M875.0,91.5 L878.8,84.9 M873.4,89.4 L877.2,82.8 M871.9,87.3 L875.6,80.7 M870.3,85.2 L874.0,78.6 M868.7,83.1 L872.5,76.5 M867.1,81.0 L870.9,74.4 M865.5,78.9 L869.3,72.3 M863.9,76.8 L867.7,70.2 M862.3,74.7 L866.1,68.1 M860.7,72.6 L864.5,66.0 M859.2,70.5 L862.9,63.9 M857.6,68.4 L861.4,61.8 M856.0,66.3 L859.8,59.7 M854.4,64.2 L858.2,57.6" stroke="#2e2e2e" stroke-width="0.8" fill="none"/></g><path d="M959,56 C955,54.6 948,57 943,61 C933,69 923,81 918.6,90 C914,100 911,110 910.6,120 L929,126 C938,116 947,105 952,95 C957,85 959.6,72 959,56 Z" fill="#cfd1cf" stroke="#3c3c3c" stroke-width="0.7"/><g clip-path="url(#rwc)"><path d="M910.8,124.2 L953.8,50.5" stroke="#e6e8e6" stroke-width="2.2"/><path d="M912.9,125.4 L955.9,51.7" stroke="#9a9c9a" stroke-width="0.6"/><path d="M914.8,126.5 L957.8,52.8" stroke="#dadcda" stroke-width="1.6"/><path d="M917.2,127.9 L960.2,54.3" stroke="#7a7c7a" stroke-width="2.4"/><path d="M919.8,129.4 L962.8,55.8" stroke="#5e605e" stroke-width="2.8"/><path d="M922.4,130.9 L965.4,57.3" stroke="#8a8c8a" stroke-width="1.8"/><path d="M924.3,132.0 L967.3,58.4" stroke="#c4c6c4" stroke-width="1.2"/><path d="M919.0,122.0 L926.6,122.9 M920.3,119.8 L927.9,120.7 M921.6,117.5 L929.2,118.5 M922.9,115.3 L930.5,116.2 M924.2,113.0 L931.8,114.0 M925.6,110.8 L933.1,111.7 M926.9,108.6 L934.4,109.5 M928.2,106.3 L935.7,107.3 M929.5,104.1 L937.0,105.0 M930.8,101.8 L938.4,102.8 M932.1,99.6 L939.7,100.5 M933.4,97.3 L941.0,98.3 M934.7,95.1 L942.3,96.0 M936.0,92.9 L943.6,93.8 M937.3,90.6 L944.9,91.6 M938.7,88.4 L946.2,89.3 M940.0,86.1 L947.5,87.1 M941.3,83.9 L948.8,84.8 M942.6,81.7 L950.1,82.6 M943.9,79.4 L951.5,80.4 M945.2,77.2 L952.8,78.1 M946.5,74.9 L954.1,75.9 M947.8,72.7 L955.4,73.6 M949.1,70.4 L956.7,71.4 M950.4,68.2 L958.0,69.1 M951.8,66.0 L959.3,66.9 M953.1,63.7 L960.6,64.7 M954.4,61.5 L961.9,62.4 M955.7,59.2 L963.2,60.2 M957.0,57.0 L964.6,57.9" stroke="#2e2e2e" stroke-width="0.8" fill="none"/></g><path d="M920,127 C932,125 944,127 952,133 C946,137 938,141 928,143 L918,142 Z" fill="#c0c2c0" stroke="#3c3c3c" stroke-width="0.7"/><path d="M924,130 L949,133 M924,134 L944,137 M924,138 L936,140.6" stroke="#666" stroke-width="0.8"/><path d="M897,123 C903,117 915,119 920,127 C924,137 921,149 913,156 C907,159 902,153 899,147 C896,139 894,130 897,123 Z" fill="#aeb0ae" stroke="#3c3c3c" stroke-width="0.7"/><path d="M900,128 L906,150 M904,124 L910,152 M909,123 L915,148 M914,125 L918,142" stroke="#555" stroke-width="0.9" fill="none"/><path d="M899,127 C893,124.6 885,128 882,134 C880,138 880,143 881,146 C882,149 884,150 885,149 C885,147 885.4,145 887,144 C890,143.4 894,142 898,139 Z" fill="#cfd1cf" stroke="#3c3c3c" stroke-width="0.7"/><circle cx="887" cy="135" r="0.9" fill="#222"/><path d="M881,142 L885,143.6" stroke="#333" stroke-width="0.6"/><path d="M905,154 L903,162 L899,167 M909,156 L909,163 L912,168" stroke="#777" stroke-width="2.4" fill="none"/><path d="M896,166 q3,-5 7,-1 M906,165 q4,-4 8,1" stroke="#ccc" stroke-width="2" fill="none"/><path d="M907,178 C900,168 892,168 893,178 C894,186 902,184 907,178 C912,168 920,168 919,178 C918,186 910,184 907,178 Z" fill="#fff" stroke="#e6d62a" stroke-width="2.6"/><path d="M905,180 L888,186 M909,180 L927,186" stroke="#e6d62a" stroke-width="2.6" stroke-linecap="round"/><circle cx="907" cy="178" r="2.6" fill="#e6d62a"/>
<g transform="matrix(1.0,0,0,1.0,0,0)"><use href="#heliUnder"/><g clip-path="url(#clipH1)"><path d="M367,262 C367.3,263.0 367.5,264.8 369.0,268.0 C370.5,271.2 372.8,275.7 376.0,281.0 C379.2,286.3 384.7,293.5 388.0,300.0 C391.3,306.5 392.3,313.8 396.0,320.0 C399.7,326.2 404.3,333.3 410.0,337.0 C415.7,340.7 423.3,340.2 430.0,342.0 C436.7,343.8 444.7,345.0 450.0,348.0 C455.3,351.0 459.7,356.7 462.0,360.0 C464.3,363.3 463.7,362.3 464.0,368.0 C464.3,373.7 464.0,389.7 464.0,394.0 L345,394 C345.5,392.0 346.8,386.7 348.0,382.0 C349.2,377.3 351.7,370.3 352.0,366.0 C352.3,361.7 352.0,359.3 350.0,356.0 C348.0,352.7 344.0,349.0 340.0,346.0 C336.0,343.0 329.7,341.2 326.0,338.0 C322.3,334.8 319.3,328.8 318.0,327.0 L316,300 L344,296 L344,262 Z" fill="#b5905f"/><path d="M261,299.6 C270,292.8 282,291.4 300,290.8 C318,290.2 335,289.4 347.6,288.8 L347.6,298 L321,298 L320.4,327.4 L314,327.4 L317.6,293.6 L300,294 C282,294.6 270,296.2 262.4,302 Z" fill="#b5905f"/><path d="M589.0,306.0 L664.0,303.0 L629.0,344.0 L556.0,356.0 Z" fill="#b5905f"/><path d="M726.0,300.0 C731.2,291.8 750.7,259.2 757.0,251.0 C763.3,242.8 761.5,250.5 764.0,250.5 C766.5,250.5 769.2,250.4 772.0,251.0 C774.8,251.6 778.0,252.8 781.0,254.0 C784.0,255.2 787.2,257.1 790.0,258.0 C792.8,258.9 795.3,259.5 798.0,259.5 C800.7,259.5 803.7,259.4 806.0,258.0 C808.3,256.6 810.5,253.7 812.0,251.0 C813.5,248.3 814.0,244.8 815.0,242.0 C816.0,239.2 816.5,236.3 818.0,234.0 C819.5,231.7 822.0,229.5 824.0,228.0 C826.0,226.5 829.0,225.5 830.0,225.0 L845.0,222.0 L845.0,180.0 L780.0,180.0 Z" fill="#b5905f"/><path d="M752.0,331.0 C753.3,332.5 756.7,337.5 760.0,340.0 C763.3,342.5 767.7,345.7 772.0,346.0 C776.3,346.3 781.8,344.2 786.0,342.0 C790.2,339.8 794.3,335.5 797.0,333.0 C799.7,330.5 801.2,328.0 802.0,327.0 L806.0,327.0 L806.0,360.0 L750.0,360.0 Z" fill="#b5905f"/></g><use href="#heliOver"/><circle cx="383" cy="323.2" r="4.4" fill="#e2e2ea" stroke="#15151f" stroke-width="1.3"/><circle cx="383" cy="323.6" r="1.9" fill="#2c3468"/><path d="M381,318.4 L381.4,315.8 L383,317 L384.6,315.8 L385,318.4 Z" fill="#15151f"/></g>
<circle cx="511" cy="338.6" r="7" fill="#33458e"/><circle cx="511" cy="338.6" r="3.15" fill="#d8283a"/>
<text transform="translate(538,341.4) rotate(-1.5) scale(0.585,1)" font-size="24" font-weight="bold" text-anchor="start" fill="#1a1a1a" letter-spacing="0.6">ARMY</text>
<text transform="translate(635,331) rotate(-4) scale(0.75,1)" font-size="21" font-weight="bold" text-anchor="start" fill="#1a1a1a" letter-spacing="1.2">XW865</text>
<text x="265.2" y="357.8" font-size="21.4" font-weight="bold" text-anchor="middle" fill="#fff" letter-spacing="2.2">5F</text>
<rect x="326.6" y="349.4" width="7.2" height="7.2" fill="#f4f4f4" stroke="#777" stroke-width="0.5"/><path d="M330.20000000000005,350.59999999999997 v4.800000000000001 M327.8,353.0 h4.800000000000001" stroke="#c22" stroke-width="1"/>
<g transform="matrix(-1.007,0,0,1.007,992.75,235.2)"><use href="#heliUnder"/><g clip-path="url(#clipH1)"><path d="M367,262 C367.2,262.8 366.7,263.4 368.2,266.9 C369.7,270.4 373.1,276.8 376.1,282.8 C379.1,288.8 382.4,296.4 386.0,302.7 C389.6,309.0 393.4,316.3 398.0,320.6 C402.6,324.9 408.6,326.5 413.9,328.5 C419.2,330.5 426.1,330.2 429.7,332.5 C433.3,334.8 433.8,337.8 435.7,342.4 C437.6,347.0 439.4,354.0 441.0,360.0 C442.6,366.0 443.8,373.5 445.6,378.2 C447.4,382.9 450.4,385.5 451.6,388.1 C452.8,390.7 452.8,393.0 453.0,394.0 L349,394 C349.2,392.0 349.9,386.7 350.3,382.1 C350.7,377.5 351.6,370.8 351.3,366.2 C351.0,361.6 350.5,357.6 348.3,354.3 C346.1,351.0 342.4,348.7 338.4,346.4 C334.4,344.1 328.1,342.9 324.5,340.4 C320.9,337.9 317.8,333.0 316.5,331.5 L316,300 L344,296 L344,262 Z" fill="#b5905f"/><path d="M261,299.6 C270,292.8 282,291.4 300,290.8 C318,290.2 335,289.4 347.6,288.8 L347.6,298 L321,298 L320.4,327.4 L314,327.4 L317.6,293.6 L300,294 C282,294.6 270,296.2 262.4,302 Z" fill="#b5905f"/><path d="M588.0,306.0 L666.0,302.0 L632.0,344.0 L557.0,356.0 Z" fill="#b5905f"/><path d="M740.0,262.0 C742.6,259.8 751.6,251.8 755.5,249.0 C759.4,246.2 760.8,246.1 763.4,245.1 C766.0,244.1 768.4,243.6 771.4,243.1 C774.4,242.6 778.3,241.4 781.3,242.1 C784.3,242.8 786.6,246.1 789.2,247.1 C791.9,248.1 794.6,249.4 797.2,248.1 C799.9,246.8 802.8,242.6 805.1,239.1 C807.4,235.6 808.8,229.7 811.1,227.2 C813.4,224.7 816.4,224.2 819.0,224.2 C821.6,224.2 823.5,225.9 827.0,227.2 C830.5,228.5 837.8,231.2 840.0,232.0 L845.0,232.0 L845.0,180.0 L780.0,180.0 L730.0,270.0 Z" fill="#b5905f"/><path d="M752.0,331.0 C753.3,332.2 756.7,336.2 760.0,338.0 C763.3,339.8 767.7,341.5 772.0,341.5 C776.3,341.5 781.8,339.8 786.0,338.0 C790.2,336.2 794.5,332.3 797.2,330.5 C799.9,328.7 801.2,327.6 802.0,327.0 L806.0,327.0 L806.0,360.0 L750.0,360.0 Z" fill="#b5905f"/></g><use href="#heliOver"/><ellipse cx="441.8" cy="359" rx="16" ry="13.1" fill="#0c0c0c"/><circle cx="383" cy="323.2" r="4.4" fill="#e2e2ea" stroke="#15151f" stroke-width="1.3"/><circle cx="383" cy="323.6" r="1.9" fill="#2c3468"/><path d="M381,318.4 L381.4,315.8 L383,317 L384.6,315.8 L385,318.4 Z" fill="#15151f"/><circle cx="780.1" cy="297.1" r="8" fill="#b9bcc2" stroke="#8c9096" stroke-width="0.4"/><circle cx="780.1" cy="297.1" r="4.4" fill="#b4b9c4" stroke="#7d8288" stroke-width="0.5"/><path d="M780.1,297.1 L754.4,297.1 M780.1,297.1 L794.8,276.1 M780.1,297.1 L794,318.6" stroke="#1a1a1a" stroke-width="0.9"/></g>
<circle cx="477" cy="576" r="7" fill="#33458e"/><circle cx="477" cy="576" r="3.15" fill="#d8283a"/>
<text transform="translate(297,563.6) rotate(4) scale(0.75,1)" font-size="21.4" font-weight="bold" text-anchor="start" fill="#1a1a1a" letter-spacing="1.2">XW865</text>
<text transform="translate(409,579.6) rotate(2) scale(0.585,1)" font-size="24.2" font-weight="bold" text-anchor="start" fill="#1a1a1a" letter-spacing="0.6">ARMY</text>
<text x="728" y="596" font-size="21.4" font-weight="bold" text-anchor="middle" fill="#fff" letter-spacing="2.2">5F</text>
<g transform="matrix(-1.057,0,0,1.057,962.1,528.7)"><use href="#heliUnder"/><path d="M677.4,301.6 L708.4,298 L716,300 L706,309 L682,307.8 Z" fill="#ed4322"/><g clip-path="url(#clipH1)"><path d="M367,262 C367.2,262.8 366.7,263.4 368.2,266.9 C369.7,270.4 373.1,276.8 376.1,282.8 C379.1,288.8 382.4,296.4 386.0,302.7 C389.6,309.0 393.4,316.3 398.0,320.6 C402.6,324.9 408.6,326.5 413.9,328.5 C419.2,330.5 426.1,330.2 429.7,332.5 C433.3,334.8 433.8,337.8 435.7,342.4 C437.6,347.0 439.4,354.0 441.0,360.0 C442.6,366.0 443.8,373.5 445.6,378.2 C447.4,382.9 450.4,385.5 451.6,388.1 C452.8,390.7 452.8,393.0 453.0,394.0 L349,394 C349.2,392.0 349.9,386.7 350.3,382.1 C350.7,377.5 351.6,370.8 351.3,366.2 C351.0,361.6 350.5,357.6 348.3,354.3 C346.1,351.0 342.4,348.7 338.4,346.4 C334.4,344.1 328.1,342.9 324.5,340.4 C320.9,337.9 317.8,333.0 316.5,331.5 L316,300 L344,296 L344,262 Z" fill="#b5905f"/><path d="M261,299.6 C270,292.8 282,291.4 300,290.8 C318,290.2 335,289.4 347.6,288.8 L347.6,298 L321,298 L320.4,327.4 L314,327.4 L317.6,293.6 L300,294 C282,294.6 270,296.2 262.4,302 Z" fill="#b5905f"/><path d="M588.0,306.0 L666.0,302.0 L632.0,344.0 L557.0,356.0 Z" fill="#b5905f"/><path d="M740.0,262.0 C742.6,259.8 751.6,251.8 755.5,249.0 C759.4,246.2 760.8,246.1 763.4,245.1 C766.0,244.1 768.4,243.6 771.4,243.1 C774.4,242.6 778.3,241.4 781.3,242.1 C784.3,242.8 786.6,246.1 789.2,247.1 C791.9,248.1 794.6,249.4 797.2,248.1 C799.9,246.8 802.8,242.6 805.1,239.1 C807.4,235.6 808.8,229.7 811.1,227.2 C813.4,224.7 816.4,224.2 819.0,224.2 C821.6,224.2 823.5,225.9 827.0,227.2 C830.5,228.5 837.8,231.2 840.0,232.0 L845.0,232.0 L845.0,180.0 L780.0,180.0 L730.0,270.0 Z" fill="#b5905f"/><path d="M346.6,260.0 L425.0,260.0 L425.0,296.0 L421.6,304.4 L346.6,309.6 Z" fill="#ed4322"/><path d="M445.5,260.0 L510.0,260.0 L510.0,296.0 L503.5,300.0 L497.0,313.6 L482.0,315.6 L471.5,319.2 L461.8,317.2 L446.4,309.6 Z" fill="#ed4322"/><path d="M750.0,339.0 L758.8,337.2 L799.0,332.2 L806.0,331.0 L806.0,360.0 L750.0,360.0 Z" fill="#ed4322"/><path d="M256.6,381.2 L300.0,383.4 L357.0,382.6 L357.0,392.0 L262.0,392.0 Z" fill="#ed4322"/></g><use href="#heliOver"/><ellipse cx="441.8" cy="359" rx="16" ry="13.1" fill="#0c0c0c"/><circle cx="780.1" cy="297.1" r="8" fill="#b9bcc2" stroke="#8c9096" stroke-width="0.4"/><circle cx="780.1" cy="297.1" r="4.4" fill="#b4b9c4" stroke="#7d8288" stroke-width="0.5"/><path d="M780.1,297.1 L754.4,297.1 M780.1,297.1 L794.8,276.1 M780.1,297.1 L794,318.6" stroke="#1a1a1a" stroke-width="0.9"/></g>
<circle cx="421" cy="887" r="7.5" fill="#33458e"/><circle cx="421" cy="887" r="3.38" fill="#d8283a"/>
<text transform="translate(233,873.6) rotate(4) scale(0.8,1)" font-size="22.6" font-weight="bold" text-anchor="start" fill="#1a1a1a" letter-spacing="1.2">XZ340</text>
<text transform="translate(349,889.6) rotate(2) scale(0.585,1)" font-size="25.4" font-weight="bold" text-anchor="start" fill="#1a1a1a" letter-spacing="0.6">ARMY</text>
<text x="683.6" y="908" font-size="22.4" font-weight="bold" text-anchor="middle" fill="#fff" letter-spacing="2.2">5C</text>
<g transform="matrix(0.99,0,0,0.99,107.2,794.5)"><use href="#heliUnder"/><path d="M677.4,301.6 L708.4,298 L716,300 L706,309 L682,307.8 Z" fill="#ed4322"/><g clip-path="url(#clipH1)"><path d="M367,262 C367.3,263.0 367.5,264.8 369.0,268.0 C370.5,271.2 372.8,275.7 376.0,281.0 C379.2,286.3 384.7,293.5 388.0,300.0 C391.3,306.5 392.3,313.8 396.0,320.0 C399.7,326.2 404.3,333.3 410.0,337.0 C415.7,340.7 423.3,340.2 430.0,342.0 C436.7,343.8 444.7,345.0 450.0,348.0 C455.3,351.0 459.7,356.7 462.0,360.0 C464.3,363.3 463.7,362.3 464.0,368.0 C464.3,373.7 464.0,389.7 464.0,394.0 L345,394 C345.5,392.0 346.8,386.7 348.0,382.0 C349.2,377.3 351.7,370.3 352.0,366.0 C352.3,361.7 352.0,359.3 350.0,356.0 C348.0,352.7 344.0,349.0 340.0,346.0 C336.0,343.0 329.7,341.2 326.0,338.0 C322.3,334.8 319.3,328.8 318.0,327.0 L316,300 L344,296 L344,262 Z" fill="#b5905f"/><path d="M261,299.6 C270,292.8 282,291.4 300,290.8 C318,290.2 335,289.4 347.6,288.8 L347.6,298 L321,298 L320.4,327.4 L314,327.4 L317.6,293.6 L300,294 C282,294.6 270,296.2 262.4,302 Z" fill="#b5905f"/><path d="M589.0,306.0 L664.0,303.0 L629.0,344.0 L556.0,356.0 Z" fill="#b5905f"/><path d="M726.0,300.0 C731.2,291.8 750.7,259.2 757.0,251.0 C763.3,242.8 761.5,250.5 764.0,250.5 C766.5,250.5 769.2,250.4 772.0,251.0 C774.8,251.6 778.0,252.8 781.0,254.0 C784.0,255.2 787.2,257.1 790.0,258.0 C792.8,258.9 795.3,259.5 798.0,259.5 C800.7,259.5 803.7,259.4 806.0,258.0 C808.3,256.6 810.5,253.7 812.0,251.0 C813.5,248.3 814.0,244.8 815.0,242.0 C816.0,239.2 816.5,236.3 818.0,234.0 C819.5,231.7 822.0,229.5 824.0,228.0 C826.0,226.5 829.0,225.5 830.0,225.0 L845.0,222.0 L845.0,180.0 L780.0,180.0 Z" fill="#b5905f"/><path d="M346.6,260.0 L425.0,260.0 L425.0,296.0 L421.6,304.4 L346.6,309.6 Z" fill="#ed4322"/><path d="M445.5,260.0 L510.0,260.0 L510.0,296.0 L503.5,300.0 L497.0,313.6 L482.0,315.6 L471.5,319.2 L461.8,317.2 L446.4,309.6 Z" fill="#ed4322"/><path d="M750.0,339.0 L758.8,337.2 L799.0,332.2 L806.0,331.0 L806.0,360.0 L750.0,360.0 Z" fill="#ed4322"/><path d="M256.6,381.2 L300.0,383.4 L357.0,382.6 L357.0,392.0 L262.0,392.0 Z" fill="#ed4322"/></g><use href="#heliOver"/></g>
<circle cx="614" cy="1129.6" r="7" fill="#33458e"/><circle cx="614" cy="1129.6" r="3.15" fill="#d8283a"/>
<text transform="translate(639.6,1132.8) rotate(-1.5) scale(0.585,1)" font-size="23.8" font-weight="bold" text-anchor="start" fill="#1a1a1a" letter-spacing="0.6">ARMY</text>
<text transform="translate(736.3,1122.6) rotate(-4) scale(0.78,1)" font-size="21" font-weight="bold" text-anchor="start" fill="#1a1a1a" letter-spacing="1.2">XZ340</text>
<text x="369.8" y="1149" font-size="21" font-weight="bold" text-anchor="middle" fill="#fff" letter-spacing="2.2">5C</text>
<rect x="431.6" y="1127.2" width="7.2" height="7.2" fill="#f4f4f4" stroke="#777" stroke-width="0.5"/><path d="M435.20000000000005,1128.4 v4.800000000000001 M432.8,1130.8 h4.800000000000001" stroke="#c22" stroke-width="1"/>
<text x="507.5" y="68" font-size="27.4" text-anchor="middle" font-weight="bold" font-style="normal" fill="#111" letter-spacing="1.1" >British Military Update Set</text>
<text x="506.5" y="103" font-size="27.4" text-anchor="middle" font-weight="bold" font-style="normal" fill="#111" letter-spacing="1.1" >Army Air Corps, Part 1</text>
<text x="510.8" y="127.2" font-size="16.2" text-anchor="middle" font-weight="bold" font-style="normal" fill="#111" letter-spacing="0" >Westland Gazelle AH.1,</text>
<text x="511.6" y="147.7" font-size="16.2" text-anchor="middle" font-weight="normal" font-style="normal" fill="#1a1a1a" letter-spacing="0" >‘XX437/’5F‘ of 29 Flight, BATUS (British Army Training Unit Suffield),</text>
<text x="512.2" y="166.6" font-size="16.2" text-anchor="middle" font-weight="normal" font-style="normal" fill="#1a1a1a" letter-spacing="0" >Army Air Corps, based at Suffield, Alberta, Canada,</text>
<text x="513.2" y="183.9" font-size="16.2" text-anchor="middle" font-weight="normal" font-style="normal" fill="#1a1a1a" letter-spacing="0" >July, 2015.</text>
<text x="535.7" y="696" font-size="16.2" text-anchor="middle" font-weight="bold" font-style="normal" fill="#111" letter-spacing="0" >Westland Gazelle AH.1,</text>
<text x="535.5" y="715" font-size="16.2" text-anchor="middle" font-weight="normal" font-style="normal" fill="#1a1a1a" letter-spacing="0" >‘XZ340/’5C‘ of 29 Flight, BATUS (British Army Training Unit Suffield),</text>
<text x="537.5" y="732.5" font-size="16.2" text-anchor="middle" font-weight="normal" font-style="normal" fill="#1a1a1a" letter-spacing="0" >British Army Air Corps, based at Suffield, Alberta, Canada,</text>
<text x="536" y="750" font-size="16.2" text-anchor="middle" font-weight="normal" font-style="normal" fill="#1a1a1a" letter-spacing="0" >2011.</text>
<text x="158" y="1003.7" font-size="13.75" text-anchor="middle" font-weight="bold" font-style="italic" fill="#1a1a1a" letter-spacing="0" >1/72 Scale</text>
<text x="158" y="1020" font-size="13.75" text-anchor="middle" font-weight="bold" font-style="italic" fill="#1a1a1a" letter-spacing="0" >Recommended Kits :</text>
<text x="157" y="1037" font-size="13.75" text-anchor="middle" font-weight="normal" font-style="normal" fill="#1a1a1a" letter-spacing="0" >Airfix Westland Gazelle AH.1</text>
<text x="157.2" y="1053.2" font-size="13.75" text-anchor="middle" font-weight="normal" font-style="normal" fill="#1a1a1a" letter-spacing="0" >with Air-Graphics CS-08 AAC</text>
<text x="158" y="1069.5" font-size="13.75" text-anchor="middle" font-weight="normal" font-style="normal" fill="#1a1a1a" letter-spacing="0" >Gazelle improvement set</text>
<text x="278.8" y="211.2" font-size="11.3" text-anchor="middle" font-weight="normal" font-style="normal" fill="#1a1a1a" letter-spacing="0" >Medium Sea Grey</text>
<text x="278" y="224" font-size="11.3" text-anchor="middle" font-weight="normal" font-style="normal" fill="#1a1a1a" letter-spacing="0" >BS381C:637</text>
<line x1="277.6" y1="225" x2="314.8" y2="304.8" stroke="#e01020" stroke-width="1.1"/>
<text x="266" y="270" font-size="11.3" text-anchor="middle" font-weight="normal" font-style="normal" fill="#1a1a1a" letter-spacing="0" >78</text>
<line x1="264.9" y1="273.6" x2="264.9" y2="331" stroke="#111" stroke-width="1.3"/><polygon points="264.9,331.0 262.3,323.0 267.5,323.0" fill="#111"/>
<text x="330" y="274.8" font-size="11.3" text-anchor="middle" font-weight="normal" font-style="normal" fill="#1a1a1a" letter-spacing="0" >79</text>
<line x1="329.7" y1="277.7" x2="329.7" y2="348.5" stroke="#111" stroke-width="1.3"/><polygon points="329.7,348.5 327.1,340.5 332.3,340.5" fill="#111"/>
<text x="343" y="253" font-size="11.3" text-anchor="middle" font-weight="normal" font-style="normal" fill="#1a1a1a" letter-spacing="0" >80+80a</text>
<line x1="344.8" y1="255.6" x2="379.6" y2="317" stroke="#111" stroke-width="1.3"/><polygon points="379.6,317.0 373.4,311.3 377.9,308.8" fill="#111"/>
<text x="512" y="398.8" font-size="11.3" text-anchor="middle" font-weight="normal" font-style="normal" fill="#1a1a1a" letter-spacing="0" >82</text>
<line x1="512" y1="389" x2="512" y2="348" stroke="#111" stroke-width="1.3"/><polygon points="512.0,348.0 514.6,356.0 509.4,356.0" fill="#111"/>
<text x="548.5" y="396" font-size="11.3" text-anchor="middle" font-weight="normal" font-style="normal" fill="#1a1a1a" letter-spacing="0" >82</text>
<line x1="548.6" y1="386" x2="548.6" y2="346" stroke="#111" stroke-width="1.3"/><polygon points="548.6,346.0 551.2,354.0 546.0,354.0" fill="#111"/>
<text x="667.5" y="383" font-size="11.3" text-anchor="middle" font-weight="normal" font-style="normal" fill="#1a1a1a" letter-spacing="0" >84</text>
<line x1="666.6" y1="371" x2="666.6" y2="330" stroke="#111" stroke-width="1.3"/><polygon points="666.6,330.0 669.2,338.0 664.0,338.0" fill="#111"/>
<text x="666" y="246" font-size="11.3" text-anchor="middle" font-weight="normal" font-style="normal" fill="#1a1a1a" letter-spacing="0" >Deep Buff</text>
<text x="666" y="260" font-size="11.3" text-anchor="middle" font-weight="normal" font-style="normal" fill="#1a1a1a" letter-spacing="0" >BS381C:460</text>
<line x1="703" y1="251" x2="796" y2="240" stroke="#e01020" stroke-width="1.1"/>
<line x1="703" y1="251" x2="724" y2="295" stroke="#e01020" stroke-width="1.1"/>
<text x="856.5" y="206" font-size="11.3" text-anchor="middle" font-weight="normal" font-style="normal" fill="#1a1a1a" letter-spacing="0" >81L</text>
<line x1="851" y1="212" x2="809" y2="259" stroke="#111" stroke-width="1.3"/><polygon points="809.0,259.0 810.8,253.9 813.8,256.6" fill="#111"/>
<text x="738.5" y="389" font-size="11.3" text-anchor="middle" font-weight="normal" font-style="normal" fill="#1a1a1a" letter-spacing="0" >Olive Green</text>
<text x="739" y="402" font-size="11.3" text-anchor="middle" font-weight="normal" font-style="normal" fill="#1a1a1a" letter-spacing="0" >BS381C:220</text>
<line x1="745" y1="379" x2="745" y2="314" stroke="#e01020" stroke-width="1.1"/>
<text x="109.3" y="430.6" font-size="11.3" text-anchor="middle" font-weight="normal" font-style="normal" fill="#1a1a1a" letter-spacing="0" >81R</text>
<line x1="128.6" y1="437.6" x2="167.8" y2="496.6" stroke="#111" stroke-width="1.2"/><polygon points="167.8,496.6 163.4,493.5 166.7,491.3" fill="#111"/>
<text x="372.5" y="504" font-size="11.3" text-anchor="middle" font-weight="normal" font-style="normal" fill="#1a1a1a" letter-spacing="0" >Deep Buff</text>
<text x="372.7" y="517.6" font-size="11.3" text-anchor="middle" font-weight="normal" font-style="normal" fill="#1a1a1a" letter-spacing="0" >BS381C:460</text>
<line x1="376" y1="523" x2="376" y2="559" stroke="#e01020" stroke-width="1.1"/>
<text x="324" y="620.8" font-size="11.3" text-anchor="middle" font-weight="normal" font-style="normal" fill="#1a1a1a" letter-spacing="0" >84</text>
<line x1="324" y1="611" x2="324" y2="569" stroke="#111" stroke-width="1.3"/><polygon points="324.0,569.0 326.6,577.0 321.4,577.0" fill="#111"/>
<text x="430.8" y="632" font-size="11.3" text-anchor="middle" font-weight="normal" font-style="normal" fill="#1a1a1a" letter-spacing="0" >82</text>
<line x1="430.8" y1="622" x2="430.8" y2="582" stroke="#111" stroke-width="1.3"/><polygon points="430.8,582.0 433.4,590.0 428.2,590.0" fill="#111"/>
<text x="477.6" y="633" font-size="11.3" text-anchor="middle" font-weight="normal" font-style="normal" fill="#1a1a1a" letter-spacing="0" >82</text>
<line x1="477" y1="623" x2="477" y2="580" stroke="#111" stroke-width="1.3"/><polygon points="477.0,580.0 479.6,588.0 474.4,588.0" fill="#111"/>
<text x="499" y="655" font-size="11.3" text-anchor="middle" font-weight="normal" font-style="normal" fill="#1a1a1a" letter-spacing="0" >Olive Green</text>
<text x="499" y="669" font-size="11.3" text-anchor="middle" font-weight="normal" font-style="normal" fill="#1a1a1a" letter-spacing="0" >BS381C:220</text>
<line x1="501" y1="593" x2="501" y2="640" stroke="#e01020" stroke-width="1.1"/>
<text x="605" y="669" font-size="11.3" text-anchor="middle" font-weight="normal" font-style="normal" fill="#1a1a1a" letter-spacing="0" >80+80a</text>
<line x1="605" y1="659" x2="605" y2="568" stroke="#111" stroke-width="1.3"/><polygon points="605.0,568.0 607.6,576.0 602.4,576.0" fill="#111"/>
<text x="730.6" y="511" font-size="11.3" text-anchor="middle" font-weight="normal" font-style="normal" fill="#1a1a1a" letter-spacing="0" >78</text>
<line x1="730.6" y1="514" x2="730.6" y2="573" stroke="#111" stroke-width="1.3"/><polygon points="730.6,573.0 728.0,565.0 733.2,565.0" fill="#111"/>
<text x="98" y="710" font-size="11.3" text-anchor="middle" font-weight="normal" font-style="normal" fill="#1a1a1a" letter-spacing="0" >81R</text>
<line x1="98" y1="713" x2="98" y2="805" stroke="#111" stroke-width="1.3"/><polygon points="98.0,805.0 95.8,799.0 100.2,799.0" fill="#111"/>
<text x="134" y="941" font-size="11.3" text-anchor="middle" font-weight="normal" font-style="normal" fill="#1a1a1a" letter-spacing="0" >Fluorescent</text>
<text x="134" y="955.6" font-size="11.3" text-anchor="middle" font-weight="normal" font-style="normal" fill="#1a1a1a" letter-spacing="0" >Red-Orange</text>
<line x1="136" y1="898" x2="136" y2="930" stroke="#e01020" stroke-width="1.1"/>
<text x="393" y="783.2" font-size="11.3" text-anchor="middle" font-weight="normal" font-style="normal" fill="#1a1a1a" letter-spacing="0" >Fluorescent</text>
<text x="393" y="797.2" font-size="11.3" text-anchor="middle" font-weight="normal" font-style="normal" fill="#1a1a1a" letter-spacing="0" >Red-Orange</text>
<line x1="406" y1="802" x2="436" y2="822" stroke="#e01020" stroke-width="1.1"/>
<line x1="436" y1="822" x2="443" y2="827" stroke="#111" stroke-width="1.3"/>
<line x1="406" y1="802" x2="520" y2="821" stroke="#e01020" stroke-width="1.1"/>
<line x1="520" y1="821" x2="534" y2="826" stroke="#111" stroke-width="1.3"/>
<text x="260" y="934" font-size="11.3" text-anchor="middle" font-weight="normal" font-style="normal" fill="#1a1a1a" letter-spacing="0" >90</text>
<line x1="260" y1="924" x2="260" y2="879" stroke="#111" stroke-width="1.3"/><polygon points="260.0,879.0 262.6,887.0 257.4,887.0" fill="#111"/>
<text x="314.8" y="949.2" font-size="11.3" text-anchor="middle" font-weight="normal" font-style="normal" fill="#1a1a1a" letter-spacing="0" >Deep Buff</text>
<text x="314.8" y="963.2" font-size="11.3" text-anchor="middle" font-weight="normal" font-style="normal" fill="#1a1a1a" letter-spacing="0" >BS381C:460</text>
<line x1="315" y1="880" x2="315" y2="938" stroke="#e01020" stroke-width="1.1"/>
<text x="372" y="947.2" font-size="11.3" text-anchor="middle" font-weight="normal" font-style="normal" fill="#1a1a1a" letter-spacing="0" >82</text>
<line x1="371.4" y1="937" x2="371.4" y2="892" stroke="#111" stroke-width="1.3"/><polygon points="371.4,892.0 374.0,900.0 368.8,900.0" fill="#111"/>
<text x="421" y="947" font-size="11.3" text-anchor="middle" font-weight="normal" font-style="normal" fill="#1a1a1a" letter-spacing="0" >82</text>
<line x1="421" y1="937" x2="421" y2="891" stroke="#111" stroke-width="1.3"/><polygon points="421.0,891.0 423.6,899.0 418.4,899.0" fill="#111"/>
<text x="444" y="966" font-size="11.3" text-anchor="middle" font-weight="normal" font-style="normal" fill="#1a1a1a" letter-spacing="0" >Olive Green</text>
<text x="444" y="979" font-size="11.3" text-anchor="middle" font-weight="normal" font-style="normal" fill="#1a1a1a" letter-spacing="0" >BS381C:220</text>
<line x1="447" y1="906" x2="447" y2="954" stroke="#e01020" stroke-width="1.1"/>
<text x="686.6" y="818.6" font-size="11.3" text-anchor="middle" font-weight="normal" font-style="normal" fill="#1a1a1a" letter-spacing="0" >89</text>
<line x1="686.5" y1="821" x2="686.5" y2="883.4" stroke="#111" stroke-width="1.3"/><polygon points="686.5,883.4 683.9,875.4 689.1,875.4" fill="#111"/>
<text x="587.6" y="994" font-size="11.3" text-anchor="middle" font-weight="normal" font-style="normal" fill="#1a1a1a" letter-spacing="0" >Fluorescent</text>
<text x="587.6" y="1007.2" font-size="11.3" text-anchor="middle" font-weight="normal" font-style="normal" fill="#1a1a1a" letter-spacing="0" >Red-Orange</text>
<line x1="588" y1="1010" x2="478" y2="1056.5" stroke="#e01020" stroke-width="1.1"/>
<line x1="478" y1="1056.5" x2="461" y2="1064" stroke="#111" stroke-width="1.3"/>
<line x1="588" y1="1010" x2="574" y2="1070" stroke="#e01020" stroke-width="1.1"/>
<line x1="588" y1="1010" x2="770" y2="1085" stroke="#e01020" stroke-width="1.1"/>
<line x1="770" y1="1085" x2="788" y2="1092.4" stroke="#111" stroke-width="1.3"/>
<text x="370" y="1062.4" font-size="11.3" text-anchor="middle" font-weight="normal" font-style="normal" fill="#1a1a1a" letter-spacing="0" >89</text>
<line x1="369.2" y1="1065.5" x2="369.2" y2="1126.6" stroke="#111" stroke-width="1.3"/><polygon points="369.2,1126.6 366.6,1118.6 371.8,1118.6" fill="#111"/>
<text x="433.6" y="1064" font-size="11.3" text-anchor="middle" font-weight="normal" font-style="normal" fill="#1a1a1a" letter-spacing="0" >79</text>
<line x1="433.3" y1="1067.6" x2="433.3" y2="1125" stroke="#111" stroke-width="1.3"/><polygon points="433.3,1125.0 430.7,1117.0 435.9,1117.0" fill="#111"/>
<text x="614" y="1190.3" font-size="11.3" text-anchor="middle" font-weight="normal" font-style="normal" fill="#1a1a1a" letter-spacing="0" >82</text>
<line x1="613.3" y1="1180" x2="613.3" y2="1138" stroke="#111" stroke-width="1.3"/><polygon points="613.3,1138.0 615.9,1146.0 610.7,1146.0" fill="#111"/>
<text x="650" y="1187.4" font-size="11.3" text-anchor="middle" font-weight="normal" font-style="normal" fill="#1a1a1a" letter-spacing="0" >82</text>
<line x1="649.5" y1="1177.6" x2="649.5" y2="1135.6" stroke="#111" stroke-width="1.3"/><polygon points="649.5,1135.6 652.1,1143.6 646.9,1143.6" fill="#111"/>
<text x="704.4" y="1186.8" font-size="11.3" text-anchor="middle" font-weight="normal" font-style="normal" fill="#1a1a1a" letter-spacing="0" >Deep Buff</text>
<text x="704.4" y="1201" font-size="11.3" text-anchor="middle" font-weight="normal" font-style="normal" fill="#1a1a1a" letter-spacing="0" >BS381C:460</text>
<line x1="707.5" y1="1128" x2="707.5" y2="1177" stroke="#e01020" stroke-width="1.1"/>
<text x="766.8" y="1174" font-size="11.3" text-anchor="middle" font-weight="normal" font-style="normal" fill="#1a1a1a" letter-spacing="0" >90</text>
<line x1="766.8" y1="1164" x2="766.8" y2="1121" stroke="#111" stroke-width="1.3"/><polygon points="766.8,1121.0 769.4,1129.0 764.2,1129.0" fill="#111"/>
<text x="837.8" y="1180.2" font-size="11.3" text-anchor="middle" font-weight="normal" font-style="normal" fill="#1a1a1a" letter-spacing="0" >Olive Green</text>
<text x="838" y="1194" font-size="11.3" text-anchor="middle" font-weight="normal" font-style="normal" fill="#1a1a1a" letter-spacing="0" >BS381C:220</text>
<line x1="843" y1="1104" x2="843" y2="1168" stroke="#e01020" stroke-width="1.1"/>
<text x="929.3" y="1161" font-size="11.3" text-anchor="middle" font-weight="normal" font-style="normal" fill="#1a1a1a" letter-spacing="0" >Fluorescent</text>
<text x="929.3" y="1175" font-size="11.3" text-anchor="middle" font-weight="normal" font-style="normal" fill="#1a1a1a" letter-spacing="0" >Red-Orange</text>
<line x1="888" y1="1140" x2="901" y2="1149" stroke="#e01020" stroke-width="1.1"/>
<text x="907" y="965" font-size="11.3" text-anchor="middle" font-weight="normal" font-style="normal" fill="#1a1a1a" letter-spacing="0" >81L</text>
<line x1="907.4" y1="968" x2="907.4" y2="1058" stroke="#111" stroke-width="1.3"/><polygon points="907.4,1058.0 904.8,1050.0 910.0,1050.0" fill="#111"/>
<circle cx="97.5" cy="1302.5" r="68.5" fill="#1f2f87"/><circle cx="97.5" cy="1302.5" r="45" fill="#fff"/><circle cx="97.5" cy="1302.5" r="22.5" fill="#d8132b"/>
<polygon points="272.8,1221.4 272.0,1226.8 264.8,1244.2 259.4,1250.2 260.8,1257.4 252.8,1272.4 260.0,1306.0 259.4,1312.0 258.2,1316.2 244.4,1315.8 230.0,1312.0 228.8,1312.0 231.2,1325.2 227.0,1330.6 218.0,1328.2 212.6,1313.2 215.0,1309.6 212.0,1308.2 209.0,1309.8 207.2,1307.8 209.6,1304.8 206.0,1302.4 201.8,1304.8 189.2,1306.6 182.0,1297.6 185.6,1292.8 198.2,1291.0 199.8,1288.6 188.0,1270.0 187.4,1265.2 191.0,1260.4 230.0,1256.2 240.8,1244.8 250.4,1242.4 254.0,1238.8" fill="#4c5a2f" stroke="#4c5a2f" stroke-width="0.6" stroke-linejoin="round"/>
<polygon points="544.3,1228.9 543.5,1234.3 536.3,1251.7 530.9,1257.7 532.3,1264.9 524.3,1279.9 531.5,1313.5 530.9,1319.5 529.7,1323.7 515.9,1323.3 501.5,1319.5 500.3,1319.5 502.7,1332.7 498.5,1338.1 489.5,1335.7 484.1,1320.7 486.5,1317.1 483.5,1315.7 480.5,1317.3 478.7,1315.3 481.1,1312.3 477.5,1309.9 473.3,1312.3 460.7,1314.1 453.5,1305.1 457.1,1300.3 469.7,1298.5 471.3,1296.1 459.5,1277.5 458.9,1272.7 462.5,1267.9 501.5,1263.7 512.3,1252.3 521.9,1249.9 525.5,1246.3" fill="#b5905f" stroke="#b5905f" stroke-width="0.6" stroke-linejoin="round"/>
<polygon points="795.1,1228.9 794.3,1234.3 787.1,1251.7 781.7,1257.7 783.1,1264.9 775.1,1279.9 782.3,1313.5 781.7,1319.5 780.5,1323.7 766.7,1323.3 752.3,1319.5 751.1,1319.5 753.5,1332.7 749.3,1338.1 740.3,1335.7 734.9,1320.7 737.3,1317.1 734.3,1315.7 731.3,1317.3 729.5,1315.3 731.9,1312.3 728.3,1309.9 724.1,1312.3 711.5,1314.1 704.3,1305.1 707.9,1300.3 720.5,1298.5 722.1,1296.1 710.3,1277.5 709.7,1272.7 713.3,1267.9 752.3,1263.7 763.1,1252.3 772.7,1249.9 776.3,1246.3" fill="#ed4322" stroke="#ed4322" stroke-width="0.6" stroke-linejoin="round"/>
<text x="297.5" y="1252.5" font-size="13.7" text-anchor="start" font-weight="normal" font-style="normal" fill="#1a1a1a" letter-spacing="0" >BS381C:220 Olive Green</text>
<text x="297.5" y="1269" font-size="13.7" text-anchor="start" font-weight="normal" font-style="normal" fill="#1a1a1a" letter-spacing="0" >Humbrol 80</text>
<text x="297.5" y="1286" font-size="13.7" text-anchor="start" font-weight="normal" font-style="normal" fill="#1a1a1a" letter-spacing="0" >Xtracolour 027</text>
<text x="297.5" y="1302.5" font-size="13.7" text-anchor="start" font-weight="normal" font-style="normal" fill="#1a1a1a" letter-spacing="0" >Lifecolor N/A</text>
<text x="297.5" y="1319" font-size="13.7" text-anchor="start" font-weight="normal" font-style="normal" fill="#1a1a1a" letter-spacing="0" >ModelMaster 2092</text>
<text x="297.5" y="1336" font-size="13.7" text-anchor="start" font-weight="normal" font-style="normal" fill="#1a1a1a" letter-spacing="0" >Tamiya X28</text>
<text x="297.5" y="1352.5" font-size="13.7" text-anchor="start" font-weight="normal" font-style="normal" fill="#1a1a1a" letter-spacing="0" >Velego 891</text>
<text x="297.5" y="1369" font-size="13.7" text-anchor="start" font-weight="normal" font-style="normal" fill="#1a1a1a" letter-spacing="0" >Hataka HTK-B236</text>
<text x="566.8" y="1259.9" font-size="12.5" text-anchor="start" font-weight="normal" font-style="normal" fill="#3a3a3a" letter-spacing="0" >BS381C:460 Deep Buff</text>
<text x="566.8" y="1275.8" font-size="12.5" text-anchor="start" font-weight="normal" font-style="normal" fill="#3a3a3a" letter-spacing="0" >Humbrol 94</text>
<text x="566.8" y="1292.4" font-size="12.5" text-anchor="start" font-weight="normal" font-style="normal" fill="#3a3a3a" letter-spacing="0" >Xtracolour N/A</text>
<text x="566.8" y="1308.9" font-size="12.5" text-anchor="start" font-weight="normal" font-style="normal" fill="#3a3a3a" letter-spacing="0" >Lifecolor UA097</text>
<text x="566.8" y="1325.4" font-size="12.5" text-anchor="start" font-weight="normal" font-style="normal" fill="#3a3a3a" letter-spacing="0" >Mr Color C44</text>
<text x="566.8" y="1342" font-size="12.5" text-anchor="start" font-weight="normal" font-style="normal" fill="#3a3a3a" letter-spacing="0" >ModelMaster 4796</text>
<text x="566.8" y="1358.5" font-size="12.5" text-anchor="start" font-weight="normal" font-style="normal" fill="#3a3a3a" letter-spacing="0" >Velego 914</text>
<text x="820.5" y="1259.9" font-size="13.65" text-anchor="start" font-weight="normal" font-style="normal" fill="#1a1a1a" letter-spacing="0" >Flourescent Red-Orange</text>
<text x="820.5" y="1275.8" font-size="13.65" text-anchor="start" font-weight="normal" font-style="normal" fill="#1a1a1a" letter-spacing="0" >Humbrol 193</text>
<text x="820.5" y="1292.4" font-size="13.65" text-anchor="start" font-weight="normal" font-style="normal" fill="#1a1a1a" letter-spacing="0" >Xtracolour N/A</text>
<text x="820.5" y="1308.9" font-size="13.65" text-anchor="start" font-weight="normal" font-style="normal" fill="#1a1a1a" letter-spacing="0" >Lifecolor LC22</text>
<text x="820.5" y="1325.4" font-size="13.65" text-anchor="start" font-weight="normal" font-style="normal" fill="#1a1a1a" letter-spacing="0" >ModelMaster 1775</text>
<text x="820.5" y="1342" font-size="13.65" text-anchor="start" font-weight="normal" font-style="normal" fill="#1a1a1a" letter-spacing="0" >Mr Color 171</text>
<text x="820.5" y="1358.5" font-size="13.65" text-anchor="start" font-weight="normal" font-style="normal" fill="#1a1a1a" letter-spacing="0" >Velego 70.733</text>
</svg>
</body></html>
